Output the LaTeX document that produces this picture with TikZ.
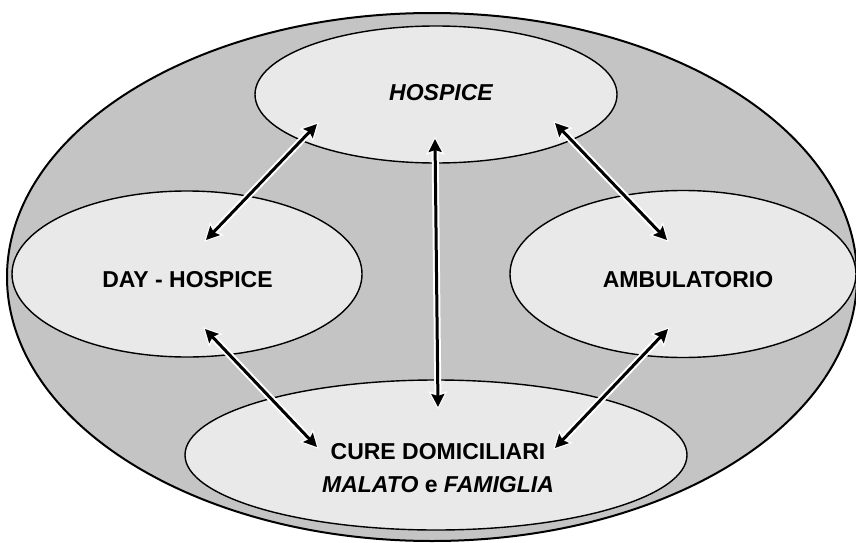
\documentclass[tikz,border=0pt]{standalone}
\usepackage{fontspec}
\setmainfont{Liberation Sans}
\usetikzlibrary{shapes.geometric,arrows.meta}
\definecolor{outergray}{RGB}{196,196,196}
\definecolor{innergray}{RGB}{233,233,233}
\tikzset{
  area/.style={ellipse,draw,line width=1.4pt,fill=innergray,inner sep=0pt},
  lbl/.style={font=\fontsize{23}{33}\selectfont\bfseries,align=center,inner sep=0pt},
  halo/.style={draw=white,line width=7pt,
    {Stealth[length=18pt,width=18pt,inset=3pt]}-{Stealth[length=18pt,width=18pt,inset=3pt]},
    shorten <=-2.5pt,shorten >=-2.5pt},
  link/.style={draw=black,line width=3pt,
    {Stealth[length=13pt,width=13pt,inset=2pt]}-{Stealth[length=13pt,width=13pt,inset=2pt]}}
}
\begin{document}
\begin{tikzpicture}[x=1pt,y=-1pt]
\useasboundingbox (0,0) rectangle (856,543);
\node[area,fill=outergray,line width=2pt,minimum width=850pt,minimum height=528pt] (outer) at (432,277) {};
\node[area,minimum width=362pt,minimum height=137pt] (hospice) at (436,94.5) {};
\node[area,minimum width=350pt,minimum height=166pt] (day) at (187,274) {};
\node[area,minimum width=346pt,minimum height=167pt] (amb) at (683,274) {};
\node[area,minimum width=502pt,minimum height=150pt] (cure) at (436,455) {};
% arrow ends
\coordinate (hd1) at (317,124);
\coordinate (hd2) at (206,240);
\coordinate (ha1) at (555,123);
\coordinate (ha2) at (667,240);
\coordinate (hc1) at (435,139);
\coordinate (hc2) at (438,407);
\coordinate (dc1) at (205,329);
\coordinate (dc2) at (317,447);
\coordinate (ac1) at (668,329);
\coordinate (ac2) at (555,448);
\foreach \a/\b in {hd1/hd2,ha1/ha2,hc1/hc2,dc1/dc2,ac1/ac2}
  \draw[halo] (\a) -- (\b);
\foreach \a/\b in {hd1/hd2,ha1/ha2,hc1/hc2,dc1/dc2,ac1/ac2}
  \draw[link] (\a) -- (\b);
% labels
\node[lbl,anchor=base] (hospiceTxt) at (441,100) {\itshape HOSPICE};
\node[lbl,anchor=base] (dayTxt) at (187.5,287) {DAY - HOSPICE};
\node[lbl,anchor=base] (ambTxt) at (688,287) {AMBULATORIO};
\node[lbl] (cureTxt) at (438,468) {CURE DOMICILIARI\\\itshape MALATO \upshape e \itshape FAMIGLIA};
\end{tikzpicture}
\end{document}
